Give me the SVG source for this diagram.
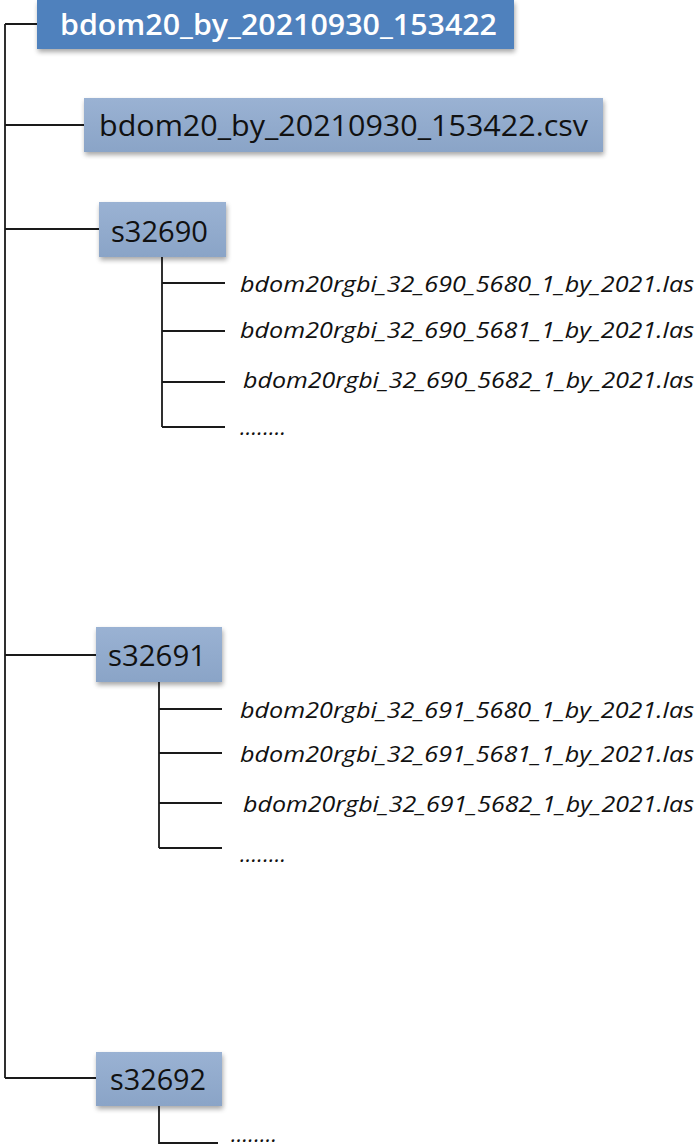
<svg xmlns="http://www.w3.org/2000/svg" width="696" height="1146" viewBox="0 0 696 1146">
<style>
.ln{stroke:#1a1a1a;stroke-width:1.8;fill:none}
.bx{fill:url(#lg)}
.lbl{font-family:"Open Sans","Noto Sans","Liberation Sans",sans-serif;fill:#111;font-size:29px}
.it{font-family:"Open Sans","Noto Sans","Liberation Sans",sans-serif;fill:#111;font-size:22px;font-style:italic}
</style>
<defs>
<linearGradient id="lg" x1="0" y1="0" x2="0" y2="1">
<stop offset="0" stop-color="#9ab2d3"/>
<stop offset="1" stop-color="#8aa4c7"/>
</linearGradient>
<filter id="sh" x="-10%" y="-20%" width="120%" height="150%">
<feGaussianBlur in="SourceAlpha" stdDeviation="2.5"/>
<feOffset dx="1" dy="3" result="b"/>
<feComponentTransfer><feFuncA type="linear" slope="0.35"/></feComponentTransfer>
<feMerge><feMergeNode/><feMergeNode in="SourceGraphic"/></feMerge>
</filter>
</defs>
<rect width="696" height="1146" fill="#fff"/>
<g id="connectors">
<path class="ln" d="M5 24V1078M5 24H37M5 125H84M5 229H99M5 655H96M5 1078H96"/>
<path class="ln" d="M162 257V427M162 283H225M162 331H225M162 382H225M162 427H225"/>
<path class="ln" d="M159 681V848M159 709H222M159 753H222M159 803H222M159 848H222"/>
<path class="ln" d="M159 1106V1143H218"/>
</g>
<g id="root">
<rect x="37" y="0" width="477" height="49" fill="#4f81bd" filter="url(#sh)"/>
<text x="60" y="35" font-family="'Open Sans','Noto Sans','Liberation Sans',sans-serif" font-size="29" font-weight="600" fill="#fff" textLength="437" lengthAdjust="spacingAndGlyphs">bdom20_by_20210930_153422</text>
</g>
<g id="csv">
<rect class="bx" x="84" y="98" width="519" height="54" filter="url(#sh)"/>
<text class="lbl" x="99" y="136" textLength="489" lengthAdjust="spacingAndGlyphs">bdom20_by_20210930_153422.csv</text>
</g>
<g id="s32690">
<rect class="bx" x="99" y="202" width="127" height="55" filter="url(#sh)"/>
<text class="lbl" x="111" y="242" textLength="97" lengthAdjust="spacingAndGlyphs">s32690</text>
</g>
<g id="files690">
<text class="it" x="240" y="292" textLength="454" lengthAdjust="spacingAndGlyphs">bdom20rgbi_32_690_5680_1_by_2021.las</text>
<text class="it" x="240" y="338" textLength="454" lengthAdjust="spacingAndGlyphs">bdom20rgbi_32_690_5681_1_by_2021.las</text>
<text class="it" x="243" y="388" textLength="451" lengthAdjust="spacingAndGlyphs">bdom20rgbi_32_690_5682_1_by_2021.las</text>
<text class="it" x="240" y="435" textLength="46" lengthAdjust="spacing">........</text>
</g>
<g id="s32691">
<rect class="bx" x="96" y="627" width="126" height="55" filter="url(#sh)"/>
<text class="lbl" x="108" y="666" textLength="98" lengthAdjust="spacingAndGlyphs">s32691</text>
</g>
<g id="files691">
<text class="it" x="240" y="718" textLength="454" lengthAdjust="spacingAndGlyphs">bdom20rgbi_32_691_5680_1_by_2021.las</text>
<text class="it" x="240" y="762" textLength="454" lengthAdjust="spacingAndGlyphs">bdom20rgbi_32_691_5681_1_by_2021.las</text>
<text class="it" x="243" y="812" textLength="451" lengthAdjust="spacingAndGlyphs">bdom20rgbi_32_691_5682_1_by_2021.las</text>
<text class="it" x="240" y="862" textLength="46" lengthAdjust="spacing">........</text>
</g>
<g id="s32692">
<rect class="bx" x="96" y="1052" width="126" height="54" filter="url(#sh)"/>
<text class="lbl" x="110" y="1090" textLength="96" lengthAdjust="spacingAndGlyphs">s32692</text>
</g>
<g id="files692">
<text class="it" x="231" y="1142" textLength="46" lengthAdjust="spacing">........</text>
</g>
</svg>
